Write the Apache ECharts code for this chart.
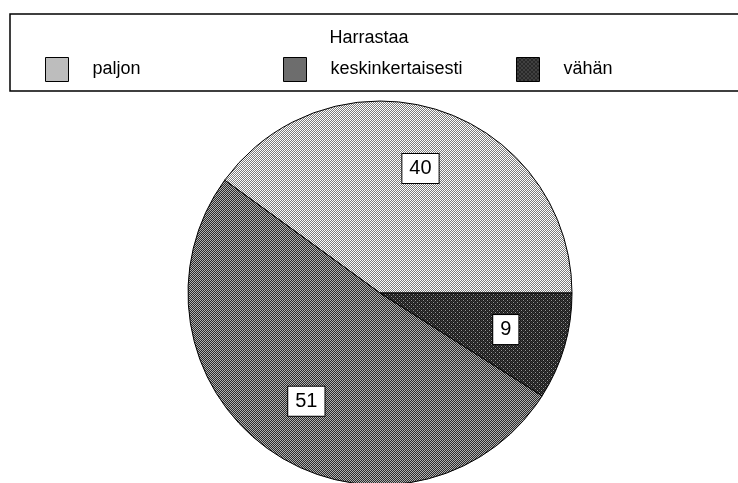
<!DOCTYPE html>
<html>
<head>
<meta charset="utf-8">
<style>
  html, body { margin: 0; padding: 0; background: #fff; }
  #main { width: 738px; height: 483px; }
</style>
<script src="https://cdn.jsdelivr.net/npm/echarts@6/dist/echarts.min.js"></script>
</head>
<body>
<div id="main"></div>
<script>
  // data
  var legendTitle = 'Harrastaa';
  var categories = ['paljon', 'keskinkertaisesti', 'vähän'];
  var values = [40, 51, 9];

  // dithered grey fills, like the old print
  function dither(cells, size) {
    var c = document.createElement('canvas');
    c.width = size; c.height = size;
    var ctx = c.getContext('2d');
    for (var y = 0; y < size; y++) {
      for (var x = 0; x < size; x++) {
        ctx.fillStyle = cells[y][x];
        ctx.fillRect(x, y, 1, 1);
      }
    }
    return { image: c, repeat: 'repeat' };
  }
  var fills = [
    dither([['#ffffff', '#7c7c7c'], ['#7c7c7c', '#ffffff']], 2),
    dither([['#b0b0b0', '#2a2a2a'], ['#2a2a2a', '#b0b0b0']], 2),
    dither([['#1a1a1a', '#383838', '#1a1a1a', '#969696'],
            ['#383838', '#1a1a1a', '#383838', '#1a1a1a'],
            ['#1a1a1a', '#969696', '#1a1a1a', '#383838'],
            ['#383838', '#1a1a1a', '#383838', '#1a1a1a']], 4)
  ];
  var legendLeft = [45, 283, 516];

  var myChart = echarts.init(document.getElementById('main'));
  var font = 'Liberation Sans, Arial, sans-serif';

  myChart.setOption({
    animation: false,
    title: {
      text: legendTitle,
      left: 'center',
      top: 24,
      textStyle: { fontFamily: font, fontSize: 18, fontWeight: 'normal', color: '#000' }
    },
    legend: categories.map(function (name, i) {
      return {
        data: [name],
        left: legendLeft[i],
        top: 57,
        padding: 0,
        itemWidth: 23,
        itemHeight: 24,
        itemGap: 0,
        icon: 'rect',
        itemStyle: { borderColor: '#000', borderWidth: 1 },
        textStyle: { fontFamily: font, fontSize: 18, color: '#000', padding: [0, 0, 0, 19] }
      };
    }),
    graphic: [{
      type: 'rect',
      shape: { x: 10, y: 14, width: 740, height: 77 },
      style: { fill: 'none', stroke: '#000', lineWidth: 1.5 }
    }],
    series: [{
      type: 'pie',
      center: [380, 293],
      radius: 192,
      startAngle: 0,
      clockwise: false,
      silent: true,
      label: { show: false },
      labelLine: { show: false },
      itemStyle: { borderColor: '#000', borderWidth: 1 },
      data: categories.map(function (name, i) {
        return { name: name, value: values[i], itemStyle: { color: fills[i] } };
      })
    }, {
      // label ring, only carries the number boxes
      type: 'pie',
      center: [380, 293],
      radius: [64, 192],
      startAngle: 0,
      clockwise: false,
      silent: true,
      legendHoverLink: false,
      itemStyle: { color: 'transparent', borderWidth: 0 },
      label: {
        show: true,
        position: 'inside',
        formatter: '{c}',
        fontFamily: font,
        fontSize: 20,
        color: '#000',
        backgroundColor: '#fff',
        borderColor: '#000',
        borderWidth: 1,
        padding: [5, 7, 4, 7]
      },
      labelLine: { show: false },
      data: categories.map(function (name, i) {
        return { name: name + ' ', value: values[i] };
      })
    }]
  });
</script>
</body>
</html>
